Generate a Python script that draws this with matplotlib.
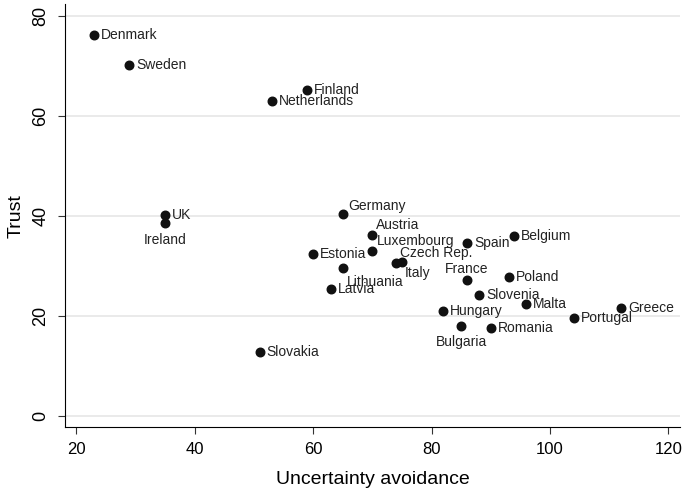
import matplotlib.pyplot as plt

plt.rcParams['font.family'] = ['Liberation Sans', 'DejaVu Sans']

# data
countries = ['Denmark', 'Sweden', 'Finland', 'Netherlands', 'UK', 'Ireland',
             'Germany', 'Austria', 'Luxembourg', 'Estonia', 'Lithuania',
             'Italy', 'Czech Rep.', 'Latvia', 'Spain', 'Belgium', 'France',
             'Poland', 'Slovenia', 'Malta', 'Greece', 'Portugal', 'Hungary',
             'Bulgaria', 'Romania', 'Slovakia']
uncertainty = [23, 29, 59, 53, 35, 35, 65, 70, 70, 60, 65, 74, 75, 63, 86, 94,
               86, 93, 88, 96, 112, 104, 82, 85, 90, 51]
trust = [76.2, 70.2, 65.2, 63.0, 40.2, 38.6, 40.4, 36.3, 33.0, 32.4, 29.7,
         30.6, 30.9, 25.5, 34.6, 36.0, 27.2, 27.8, 24.3, 22.5, 21.7, 19.7,
         21.1, 18.1, 17.7, 12.8]

# label placement (offset in points, ha, va), default is right of the marker
special = {
    'Ireland': ((0, -7), 'center', 'top'),
    'Germany': ((4, 6), 'left', 'center'),
    'Austria': ((3, 7), 'left', 'center'),
    'Luxembourg': ((3, 7), 'left', 'center'),
    'Czech Rep.': ((-1.5, 6), 'left', 'center'),
    'Italy': ((6, -2), 'left', 'top'),
    'Lithuania': ((3, -5), 'left', 'top'),
    'France': ((0, 8), 'center', 'center'),
    'Bulgaria': ((0, -7), 'center', 'top'),
}

fig = plt.figure(figsize=(6.83, 4.94), dpi=100)
ax = fig.add_axes([0.095, 0.1356, 0.901, 0.856])

ax.scatter(uncertainty, trust, s=38, color='#111111', zorder=3)
for name, x, y in zip(countries, uncertainty, trust):
    off, ha, va = special.get(name, ((5, 0), 'left', 'center'))
    ax.annotate(name, (x, y), xytext=off, textcoords='offset points',
                ha=ha, va=va, fontsize=10, color='#222222')

ax.set_xlim(18.1, 122.0)
ax.set_ylim(-2.2, 82.4)
ax.set_xticks([20, 40, 60, 80, 100, 120])
ax.set_yticks([0, 20, 40, 60, 80])
ax.yaxis.grid(True, color='#e6e6e6', linewidth=1.2)
ax.set_axisbelow(True)
ax.tick_params(length=5, color='#333333')
ax.tick_params(axis='x', labelsize=12, pad=6)
ax.tick_params(axis='y', pad=6)
for lab in ax.get_yticklabels():
    lab.set_rotation(90)
    lab.set_va('center')
    lab.set_family(['Liberation Sans Narrow', 'Liberation Sans'])
    lab.set_fontsize(13)
ax.spines['top'].set_visible(False)
ax.spines['right'].set_visible(False)
ax.set_xlabel('Uncertainty avoidance', fontsize=14, labelpad=10)
ax.set_ylabel('Trust', fontsize=14, labelpad=6,
              family=['Liberation Sans Narrow', 'Liberation Sans'])

fig.savefig('out.png', dpi=100)
